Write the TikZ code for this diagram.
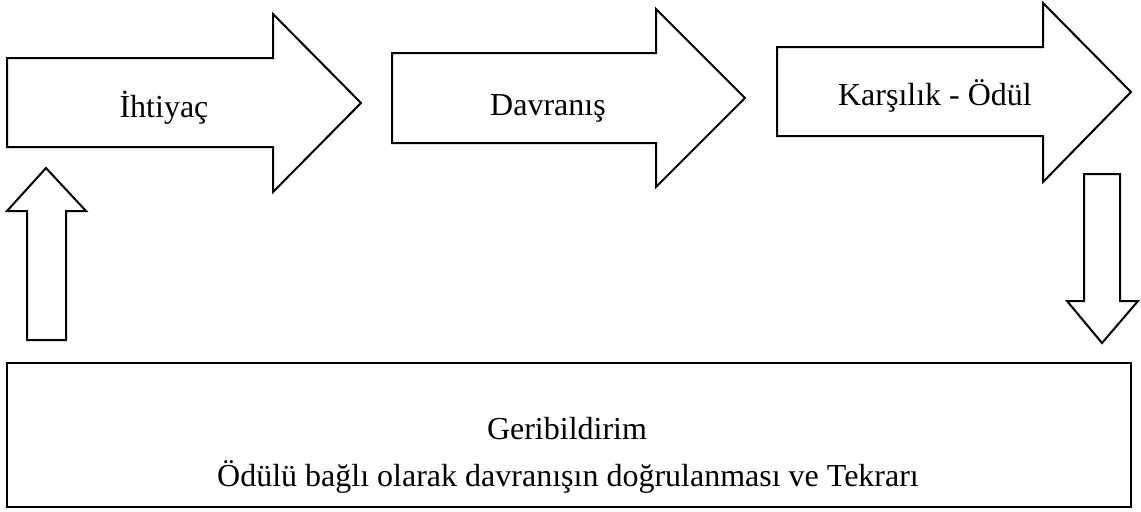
\documentclass[tikz,border=0pt]{standalone}
\usepackage{fontspec}
\setmainfont{Liberation Serif}
\begin{document}
\begin{tikzpicture}[x=0.5pt,y=-0.5pt,
  blockarrow/.style={draw=black,line width=1pt,fill=white,line join=miter},
  lbl/.style={font=\fontsize{16}{19}\selectfont,inner sep=0pt,anchor=base}]
\useasboundingbox (0,0) rectangle (1141,511);
% horizontal arrows
\draw[blockarrow] (7,58) -- (273,58) -- (273,14) -- (361,103) -- (273,192) -- (273,147) -- (7,147) -- cycle;
\draw[blockarrow] (392,53) -- (656,53) -- (656,9) -- (745,98) -- (656,187) -- (656,143) -- (392,143) -- cycle;
\draw[blockarrow] (777,47) -- (1043,47) -- (1043,3) -- (1131,92) -- (1043,182) -- (1043,136) -- (777,136) -- cycle;
% up arrow
\draw[blockarrow] (27,340) -- (27,211) -- (7,211) -- (46,168) -- (86,211) -- (66,211) -- (66,340) -- cycle;
% down arrow
\draw[blockarrow] (1084,174) -- (1120,174) -- (1120,301) -- (1138,301) -- (1102,343) -- (1067,301) -- (1084,301) -- cycle;
% feedback box
\draw[line width=0.8pt] (7,363) rectangle (1131,507);
\node[lbl] (ihtiyac) at (164,117) {İhtiyaç};
\node[lbl] (davranis) at (548,115) {Davranış};
\node[lbl] (karsilik) at (935,105.5) {Karşılık - Ödül};
\node[lbl] (geri) at (567,439) {Geribildirim};
\node[lbl] (odul) at (568,486) {Ödülü bağlı olarak davranışın doğrulanması ve Tekrarı};
\end{tikzpicture}
\end{document}
